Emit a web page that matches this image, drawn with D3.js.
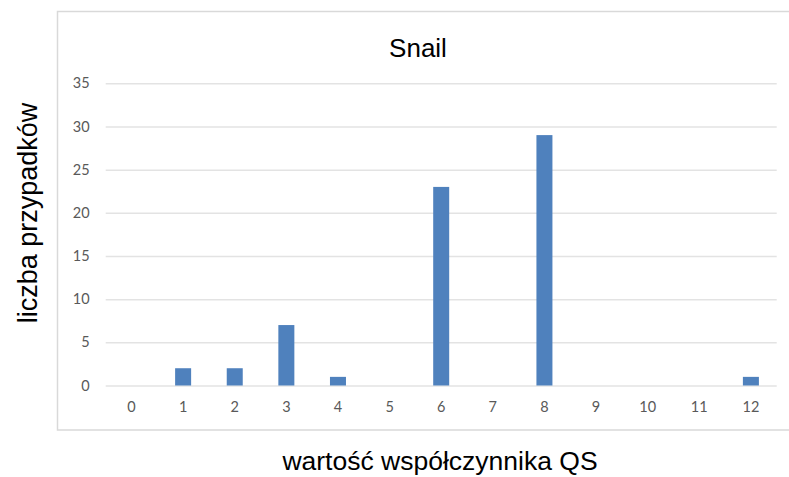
<!DOCTYPE html>
<html>
<head>
<meta charset="utf-8">
<script src="https://cdn.jsdelivr.net/npm/d3@7"></script>
<style>
  html, body { margin: 0; padding: 0; background: #fff; }
  svg { display: block; }
</style>
</head>
<body>
<svg id="chart" width="789" height="477"></svg>
<script>
// Histogram of QS coefficient values for the "Snail" group
const categories = ["0", "1", "2", "3", "4", "5", "6", "7", "8", "9", "10", "11", "12"];
const counts = [0, 2, 2, 7, 1, 0, 23, 0, 29, 0, 0, 0, 1];
const yTicks = [0, 5, 10, 15, 20, 25, 30, 35];

const title = "Snail";
const xTitle = "wartość współczynnika QS";
const yTitle = "liczba przypadków";

const svg = d3.select("#chart");
const W = 789, H = 477;
const plot = { left: 105.7, right: 776.7, top: 83.3, bottom: 385.5 };

// Chart frame
svg.append("rect")
  .attr("x", 57.5).attr("y", 11.5)
  .attr("width", W + 10).attr("height", 418.5)
  .attr("fill", "#fff")
  .attr("stroke", "#d9d9d9").attr("stroke-width", 1.5);

const x = d3.scaleBand()
  .domain(categories)
  .range([plot.left, plot.right])
  .paddingInner(0.69)
  .paddingOuter(0.345);

const y = d3.scaleLinear()
  .domain([0, 35])
  .range([plot.bottom, plot.top]);

// Horizontal gridlines and value labels
const yAxis = d3.axisLeft(y)
  .tickValues(yTicks)
  .tickSize(-(plot.right - plot.left))
  .tickPadding(16);

const gy = svg.append("g")
  .attr("transform", `translate(${plot.left},0)`)
  .call(yAxis);
gy.select(".domain").remove();
gy.selectAll(".tick line")
  .attr("stroke", "#e3e3e3").attr("stroke-width", 1.5);
gy.selectAll(".tick text")
  .attr("fill", "#595959")
  .style("font-family", "Lato, 'Open Sans', sans-serif")
  .style("font-size", "14.5px");

// Category labels along the bottom
const xAxis = d3.axisBottom(x).tickSize(0).tickPadding(16);
const gx = svg.append("g")
  .attr("transform", `translate(0,${plot.bottom})`)
  .call(xAxis);
gx.select(".domain").remove();
gx.selectAll(".tick text")
  .attr("fill", "#595959")
  .style("font-family", "Lato, 'Open Sans', sans-serif")
  .style("font-size", "14.5px");

// Bars
svg.append("g")
  .selectAll("rect")
  .data(categories.map((c, i) => ({ c, v: counts[i] })))
  .join("rect")
  .attr("x", d => x(d.c))
  .attr("width", x.bandwidth())
  .attr("y", d => y(d.v))
  .attr("height", d => y(0) - y(d.v))
  .attr("fill", "#4f81bd");

// Titles
svg.append("text")
  .attr("x", 418).attr("y", 57)
  .attr("text-anchor", "middle")
  .style("font-family", "'Liberation Sans', Arial, sans-serif")
  .style("font-size", "26px")
  .attr("fill", "#000")
  .text(title);

svg.append("text")
  .attr("x", 440).attr("y", 470)
  .attr("text-anchor", "middle")
  .style("font-family", "'Liberation Sans', Arial, sans-serif")
  .style("font-size", "26.5px")
  .attr("fill", "#000")
  .text(xTitle);

svg.append("text")
  .attr("transform", "translate(37,213) rotate(-90)")
  .attr("text-anchor", "middle")
  .style("font-family", "'Liberation Sans', Arial, sans-serif")
  .style("font-size", "27px")
  .attr("fill", "#000")
  .text(yTitle);
</script>
</body>
</html>
